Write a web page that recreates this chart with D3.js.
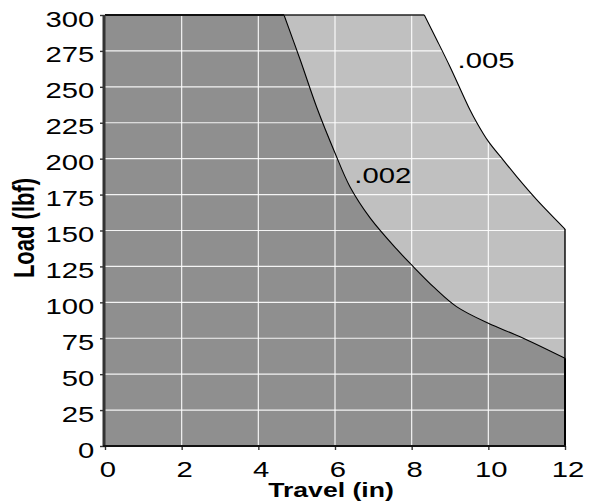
<!DOCTYPE html>
<html>
<head>
<meta charset="utf-8">
<script src="https://cdn.jsdelivr.net/npm/d3@7"></script>
<style>
  html, body { margin: 0; padding: 0; background: #fff; }
  svg { display: block; }
  text { font-family: "Liberation Sans", Arial, Helvetica, sans-serif; fill: #000; }
</style>
</head>
<body>
<svg id="chart" width="595" height="504"></svg>
<script>
// ---- data ----
const xTicks = [0, 2, 4, 6, 8, 10, 12];
const yTicks = [0, 25, 50, 75, 100, 125, 150, 175, 200, 225, 250, 275, 300];
const travel005 = [8.33, 8.65, 9.0, 9.52, 9.69, 10.0, 10.39, 10.74, 11.26, 12];
const load005   = [300, 283, 264, 234, 225.5, 212, 199, 187.5, 171.5, 151];
const travel002 = [4.67, 5.09, 5.52, 6.0, 6.39, 6.91, 7.61, 8.0, 8.6, 9.17, 10.0, 10.83, 12];
const load002   = [300, 269, 236, 204, 180.5, 159, 137, 126, 110, 97, 85.4, 76, 61];
const curveLabels = [".005", ".002"];
const xTitle = "Travel (in)";
const yTitle = "Load (lbf)";

// ---- layout ----
const SX = 1.33;  // horizontal glyph stretch seen in the reference
const pL = 105, pR = 565, pT = 15, pB = 446;
const x = d3.scaleLinear().domain([0, 12]).range([pL, pR]);
const y = d3.scaleLinear().domain([0, 300]).range([pB, pT]);
const svg = d3.select("#chart");

const lineGen = d3.line().x(d => x(d[0])).y(d => y(d[1])).curve(d3.curveCatmullRom.alpha(0.5));
const pts005 = travel005.map((t, i) => [t, load005[i]]);
const pts002 = travel002.map((t, i) => [t, load002[i]]);

function areaPath(pts) {
  const c = lineGen(pts);
  return `M${x(0)},${y(0)}L${x(0)},${y(300)}L` + c.slice(1) + `L${x(12)},${y(0)}Z`;
}

// light area (.005)
svg.append("path").attr("d", areaPath(pts005)).attr("fill", "#c0c0c0");
// dark area (.002)
svg.append("path").attr("d", areaPath(pts002)).attr("fill", "#8f8f8f");

// gridlines (clipped to light area)
svg.append("clipPath").attr("id", "clip").append("path").attr("d", areaPath(pts005));
const grid = svg.append("g").attr("clip-path", "url(#clip)");
grid.selectAll("line.v").data(xTicks.filter(d => d > 0 && d < 12)).join("line")
  .attr("x1", d => x(d)).attr("x2", d => x(d)).attr("y1", y(0)).attr("y2", y(300))
  .attr("stroke", "#fff").attr("stroke-width", 1.2).attr("stroke-opacity", 0.9);
grid.selectAll("line.h").data(yTicks.filter(d => d > 0 && d < 300)).join("line")
  .attr("x1", x(0)).attr("x2", x(12)).attr("y1", d => y(d)).attr("y2", d => y(d))
  .attr("stroke", "#fff").attr("stroke-width", 1.2).attr("stroke-opacity", 0.9);

// curve outlines
svg.append("path").attr("d", lineGen(pts005)).attr("fill", "none").attr("stroke", "#000").attr("stroke-width", 1.1);
svg.append("path").attr("d", lineGen(pts002)).attr("fill", "none").attr("stroke", "#000").attr("stroke-width", 1.1);

// borders
svg.append("line").attr("x1", x(0)).attr("x2", x(travel005[0])).attr("y1", y(300)).attr("y2", y(300))
  .attr("stroke", "#222").attr("stroke-width", 1.4);
svg.append("line").attr("x1", x(0)).attr("x2", x(travel002[0])).attr("y1", y(300)).attr("y2", y(300))
  .attr("stroke", "#111").attr("stroke-width", 2);
svg.append("line").attr("x1", x(12)).attr("x2", x(12)).attr("y1", y(load005[load005.length - 1])).attr("y2", y(0))
  .attr("stroke", "#000").attr("stroke-width", 1.4);
svg.append("line").attr("x1", x(12)).attr("x2", x(12)).attr("y1", y(load002[load002.length - 1])).attr("y2", y(0))
  .attr("stroke", "#000").attr("stroke-width", 2);

// axes
const yAxis = svg.append("g").attr("transform", `translate(${pL},0)`)
  .call(d3.axisLeft(y).tickValues(yTicks).tickSize(5).tickPadding(0));
yAxis.select(".domain").remove();
yAxis.selectAll(".tick line").attr("stroke", "#333").attr("stroke-width", 1.4);
yAxis.selectAll(".tick text")
  .attr("x", -8).attr("dy", "11px")
  .attr("transform", `scale(${SX},1)`)
  .style("font-size", "22px");

const xAxis = svg.append("g").attr("transform", `translate(0,${pB})`)
  .call(d3.axisBottom(x).tickValues(xTicks).tickSize(4).tickPadding(0));
xAxis.select(".domain").remove();
xAxis.selectAll(".tick line").attr("stroke", "#333").attr("stroke-width", 1.4);
xAxis.selectAll(".tick text")
  .attr("x", 1.8).attr("y", 0).attr("dy", "31px")
  .attr("transform", `scale(${SX},1)`)
  .style("font-size", "22px");

// axis lines
svg.append("line").attr("x1", pL - 1).attr("x2", pL - 1).attr("y1", pT).attr("y2", pB + 1)
  .attr("stroke", "#333").attr("stroke-width", 3);
svg.append("line").attr("x1", pL - 2).attr("x2", pR + 1).attr("y1", pB).attr("y2", pB)
  .attr("stroke", "#111").attr("stroke-width", 2);

// curve labels
svg.append("text").attr("transform", `translate(457.6,68) scale(${SX},1)`)
  .style("font-size", "22px").text(curveLabels[0]);
svg.append("text").attr("transform", `translate(354.3,183) scale(${SX},1)`)
  .style("font-size", "22px").text(curveLabels[1]);

// titles
svg.append("text").attr("transform", `translate(331,497) scale(${SX},1)`)
  .attr("text-anchor", "middle").style("font-size", "20px").style("font-weight", "bold").text(xTitle);
svg.append("text").attr("transform", `translate(33.5,228) scale(1.3,1) rotate(-90)`)
  .attr("text-anchor", "middle").style("font-size", "22px").style("font-weight", "bold").text(yTitle);
</script>
</body>
</html>
